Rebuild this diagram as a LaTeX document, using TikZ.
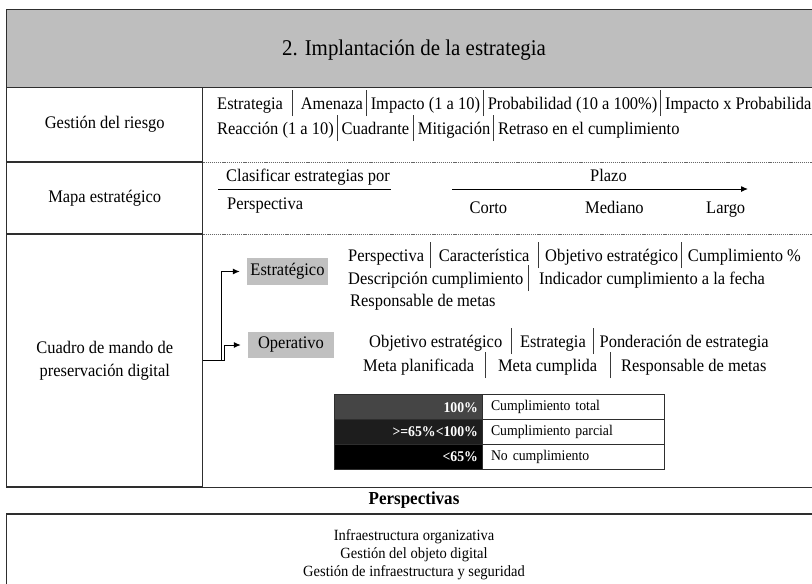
\documentclass[tikz,border=0pt]{standalone}
\usepackage{fontspec}
\setmainfont{Liberation Serif}[FakeStretch=0.93]
\usetikzlibrary{arrows.meta}
\definecolor{hdr}{HTML}{BEBEBE}
\definecolor{tagc}{HTML}{C0C0C0}
\definecolor{bord}{HTML}{2E2E2E}
\definecolor{sepc}{HTML}{3A3A3A}
\definecolor{rowA}{HTML}{454545}
\definecolor{rowB}{HTML}{1D1D1D}
\definecolor{rowC}{HTML}{000000}
\newcommand\fs[1]{\fontsize{#1}{#1}\selectfont}
\newcommand\vs[2]{\hspace{#1pt}{\color{sepc}\rule[-7pt]{0.8pt}{26pt}}\hspace{#2pt}}
\begin{document}
\begin{tikzpicture}[x=1pt,y=-1pt,
  cell/.style={draw=bord, line width=1.3pt, inner sep=0pt, font=\fs{17.7}, align=center},
  tagbox/.style={fill=tagc, inner sep=0pt, font=\fs{17.7}},
  txt/.style={anchor=base west, inner sep=0pt, font=\fs{17.7}},
  dotline/.style={draw=black!60, line width=0.6pt, dash pattern=on 1.2pt off 0.9pt},
  arr/.style={-{Latex[length=7pt,width=6pt]}, line width=1pt, draw=black},
  frame/.style={draw=bord, line width=1.3pt},
  lc/.style={draw=bord, line width=1pt, minimum width=148, minimum height=24.7, inner xsep=4pt, inner ysep=0pt, text width=140, align=right, font=\fs{14.8}\bfseries, text=white},
  rc/.style={draw=bord, line width=1pt, fill=white, minimum width=182, minimum height=24.7, inner xsep=9pt, inner ysep=0pt, text width=164, align=left, font=\fs{14.8}},
  btxt/.style={inner sep=0pt, font=\fs{15.6}}
]
\useasboundingbox (0,0) rectangle (812,584);
\clip (0,0) rectangle (812,584);
\fill[white] (0,0) rectangle (812,584);

% title
\draw[frame, fill=hdr] (6.5,9.5) rectangle (830,87.5);
\node[inner sep=0pt, font=\fs{22.5}] (title) at (414,50) {2. Implantación de la estrategia};

% left column
\node[cell, minimum width=196, minimum height=74.5] (riesgo) at (104.75,124.75) {Gestión del riesgo};
\node[cell, minimum width=196, minimum height=72] (mapa) at (104.75,198) {Mapa estratégico};
\node[cell, minimum width=196, minimum height=253] (cuadro) at (104.75,360.5) {Cuadro de mando de\\[5.5pt]preservación digital};

% right region frame
\draw[frame] (cuadro.south east) -- ++(640,0);
\draw[dotline] (riesgo.south east) -- ++(640,0);
\draw[dotline] (mapa.south east) -- ++(640,0);

% row 1
\node[txt] (r1a) at (217,109) {Estrategia\vs{9}{8}Amenaza\vs{3}{4}Impacto (1 a 10)\vs{3}{4}Probabilidad (10 a 100\%)\vs{3}{4}Impacto x Probabilidad};
\node[txt] (r1b) at (217,134) {Reacción (1 a 10)\vs{3}{4}Cuadrante\vs{4}{4}Mitigación\vs{3}{4}Retraso en el cumplimiento};

% row 2
\node[txt] (clas) at (226,181) {Clasificar estrategias por};
\coordinate (ul1) at (218,189);
\coordinate (ul2) at (391,189);
\draw[line width=1pt] (ul1) -- (ul2);
\node[txt] (perspec) at (227,209) {Perspectiva};
\coordinate (pa) at (452,189);
\coordinate (pb) at (748,189);
\draw[arr] (pa) -- (pb);
\node[txt] (plazo) at (590,181) {Plazo};
\node[txt] (corto) at (469.5,213) {Corto};
\node[txt] (mediano) at (585,213) {Mediano};
\node[txt] (largo) at (706,213) {Largo};

% row 3
\node[tagbox, minimum width=81, minimum height=27] (estr) at (287.5,271.5) {Estratégico};
\node[tagbox, minimum width=86, minimum height=26] (oper) at (291,345) {Operativo};
\draw[arr] (cuadro.east) -- ++(18.2,0) |- ([xshift=-7pt]estr.west);
\draw[arr] (cuadro.east) -- ++(20.6,0) |- ([xshift=-7pt]oper.west);

\node[txt] (e1) at (348,261) {Perspectiva\vs{6}{8}Característica\vs{9}{6}Objetivo estratégico\vs{3}{6}Cumplimiento \%};
\node[txt] (e2) at (348,284) {Descripción cumplimiento\vs{5}{10}Indicador cumplimiento a la fecha};
\node[txt] (e3) at (350,306) {Responsable de metas};
\node[txt] (o1) at (369,347) {Objetivo estratégico\vs{9}{8}Estrategia\vs{7}{6}Ponderación de estrategia};
\node[txt] (o2) at (363,371) {Meta planificada\vs{11}{12}Meta cumplida\vs{13}{10}Responsable de metas};

% legend table
\node[lc, fill=rowA] (l1) at (408,407.3) {100\%};
\node[lc, fill=rowB] (l2) at (408,432) {>=65\%<100\%};
\node[lc, fill=rowC] (l3) at (408,456.7) {<65\%};
\node[rc] (d1) at (573,407.3) {Cumplimiento total};
\node[rc] (d2) at (573,432) {Cumplimiento parcial};
\node[rc] (d3) at (573,456.7) {No cumplimiento};

% perspectives
\node[inner sep=0pt, font=\fs{18.3}\bfseries] (perspt) at (414,500) {Perspectivas};
\draw[frame] (6.5,514) rectangle (830,600);
\node[btxt] (p1) at (414,537) {Infraestructura organizativa};
\node[btxt] (p2) at (414,555) {Gestión del objeto digital};
\node[btxt] (p3) at (414,573) {Gestión de infraestructura y seguridad};
\end{tikzpicture}
\end{document}
